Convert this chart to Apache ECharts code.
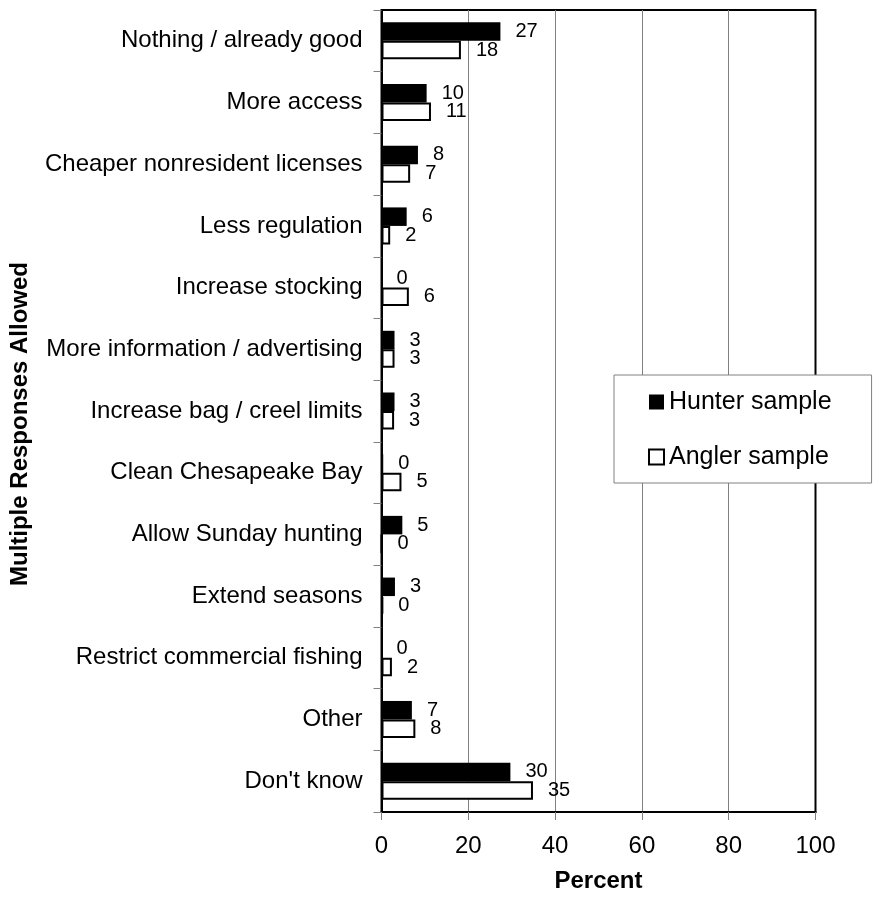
<!DOCTYPE html>
<html>
<head>
<meta charset="utf-8">
<script src="https://cdn.jsdelivr.net/npm/echarts@6/dist/echarts.min.js"></script>
<style>
html,body{margin:0;padding:0;background:#fff;}
#chart{width:874px;height:898px;}
</style>
</head>
<body>
<div id="chart"></div>
<script>
const categories = [
  "Nothing / already good",
  "More access",
  "Cheaper nonresident licenses",
  "Less regulation",
  "Increase stocking",
  "More information / advertising",
  "Increase bag / creel limits",
  "Clean Chesapeake Bay",
  "Allow Sunday hunting",
  "Extend seasons",
  "Restrict commercial fishing",
  "Other",
  "Don't know"
];
const hunterValues = [27.4, 10.4, 8.4, 5.8, 0, 3.0, 3.0, 0.4, 4.8, 3.1, 0, 7.0, 29.7];
const anglerValues = [18.3, 11.4, 6.6, 2.0, 6.3, 3.0, 2.9, 4.6, 0, 0.4, 2.4, 7.8, 34.9];
const seriesNames = ["Hunter sample", "Angler sample"];
const xTicks = [0, 20, 40, 60, 80, 100];

const FONT = '"Liberation Sans", Arial, Helvetica, sans-serif';
const chart = echarts.init(document.getElementById('chart'));

const labelCfg = {
  show: true,
  position: 'right',
  distance: 15,
  color: '#000',
  fontFamily: FONT,
  fontSize: 20,
  formatter: p => String(Math.round(p.value))
};

chart.setOption({
  animation: false,
  backgroundColor: '#fff',
  textStyle: { fontFamily: FONT, color: '#000' },
  grid: {
    left: 381.5, right: 58.5, top: 10, bottom: 83,
    show: true, borderColor: '#000', borderWidth: 2, backgroundColor: 'transparent'
  },
  legend: {
    orient: 'vertical',
    left: 614, top: 375,
    padding: [12, 40, 11, 34],
    itemGap: 25,
    itemWidth: 15, itemHeight: 15,
    icon: 'rect',
    borderColor: '#808080', borderWidth: 1,
    backgroundColor: '#fff',
    textStyle: { fontFamily: FONT, fontSize: 25, color: '#000', lineHeight: 30 },
    data: seriesNames
  },
  xAxis: {
    type: 'value',
    min: xTicks[0], max: xTicks[xTicks.length - 1], interval: 20,
    name: 'Percent',
    nameLocation: 'middle',
    nameGap: 57,
    nameTextStyle: { fontFamily: FONT, fontSize: 24, fontWeight: 'bold', color: '#000' },
    axisLine: { show: true, lineStyle: { color: '#000', width: 2 } },
    axisTick: { show: true, length: 8, lineStyle: { color: '#808080' } },
    axisLabel: { fontFamily: FONT, fontSize: 24, color: '#000', margin: 22 },
    splitLine: { show: true, showMinLine: false, showMaxLine: false, lineStyle: { color: '#808080', width: 1 } }
  },
  yAxis: {
    type: 'category',
    inverse: true,
    data: categories,
    axisLine: { show: true, lineStyle: { color: '#000', width: 2 } },
    axisTick: { show: true, length: 8, lineStyle: { color: '#808080' } },
    axisLabel: { fontFamily: FONT, fontSize: 24, color: '#000', margin: 19 },
    splitLine: { show: false }
  },
  graphic: [{
    type: 'text',
    x: 20, y: 424,
    rotation: Math.PI / 2,
    style: {
      text: 'Multiple Responses Allowed',
      font: 'bold 24px ' + FONT,
      fill: '#000',
      textAlign: 'center',
      textVerticalAlign: 'middle'
    }
  }],
  series: [
    {
      name: seriesNames[0],
      type: 'bar',
      data: hunterValues,
      barGap: '0%',
      barCategoryGap: '40%',
      itemStyle: { color: '#000', borderColor: '#000', borderWidth: 0 },
      label: labelCfg
    },
    {
      name: seriesNames[1],
      type: 'bar',
      data: anglerValues,
      barGap: '0%',
      barCategoryGap: '40%',
      itemStyle: { color: '#fff', borderColor: '#000', borderWidth: 2 },
      label: labelCfg
    }
  ]
});
</script>
</body>
</html>
